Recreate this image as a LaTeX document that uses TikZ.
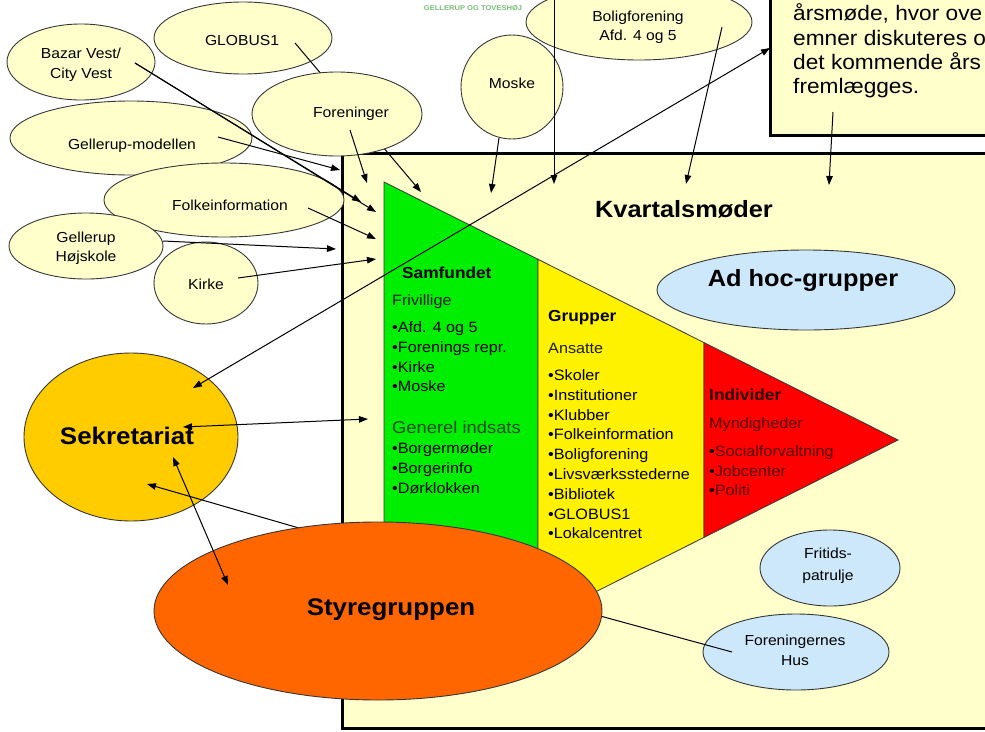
\documentclass[tikz,border=0pt]{standalone}
\usepackage{fontspec}
\setmainfont{Liberation Sans}[FakeStretch=1.08]
\usetikzlibrary{shapes.geometric,arrows.meta}
\definecolor{cream}{RGB}{255,255,204}
\definecolor{lblue}{RGB}{204,232,250}
\definecolor{gold}{RGB}{255,204,0}
\definecolor{orng}{RGB}{255,102,0}
\definecolor{lime}{RGB}{0,238,0}
\definecolor{outl}{RGB}{55,55,55}
\definecolor{dred}{RGB}{85,0,0}
\definecolor{dgreen}{RGB}{30,75,30}
\definecolor{dgray}{RGB}{30,30,30}
\definecolor{logo}{RGB}{120,190,120}
\begin{document}
\begin{tikzpicture}[x=1pt,y=-1pt,
  bub/.style={ellipse, draw=outl, line width=0.9pt, fill=cream, inner sep=0pt},
  bluebub/.style={bub, fill=lblue},
  lbl/.style={inner sep=0pt, align=center, font=\fontsize{14.5}{20}\selectfont},
  one/.style={lbl, text height=0.75em, text depth=0.22em},
  big/.style={inner sep=0pt, font=\fontsize{24}{28}\selectfont\bfseries, text height=0.75em, text depth=0.22em},
  item/.style={inner sep=0pt, anchor=mid west, font=\fontsize{15}{18}\selectfont},
  head/.style={inner sep=0pt, anchor=mid west, font=\fontsize{16}{19}\selectfont\bfseries},
  boxtxt/.style={inner sep=0pt, anchor=mid west, font=\fontsize{21}{24}\selectfont},
  conn/.style={line width=1pt, -{Triangle[length=9pt,width=6.5pt]}},
  dconn/.style={line width=1pt, {Triangle[length=9pt,width=6.5pt]}-{Triangle[length=9pt,width=6.5pt]}},
  plain/.style={line width=1pt},
  piece/.style={draw=outl, line width=0.8pt}
]
\useasboundingbox (0,0) rectangle (985,731);
\clip (0,0) rectangle (985,731);
\fill[white] (0,0) rectangle (985,731);

% logo fragment
\node[inner sep=0pt, text=logo, font=\fontsize{7}{8}\selectfont\bfseries] (logo) at (473,8) {GELLERUP OG TOVESHØJ};

% main frame and top-right box
\draw[line width=3pt, fill=cream] (342,153) rectangle (1000,728);
\draw[line width=3pt, fill=cream] (770,-10) rectangle (1000,135);
\node[boxtxt] (b1) at (793,18) {årsmøde, hvor ove};
\node[boxtxt] (b2) at (793,43) {emner diskuteres o};
\node[boxtxt] (b3) at (793,67) {det kommende års};
\node[boxtxt] (b4) at (793,91) {fremlægges.};
\coordinate (boxleft) at (770,48);
\coordinate (boxbot) at (833,112);

% pyramid
\filldraw[piece, fill=lime] (384,182) -- (538,259.3) -- (538,620.7) -- (384,698) -- cycle;
\filldraw[piece, fill=yellow] (538,259.3) -- (704,342.6) -- (704,537.4) -- (538,620.7) -- cycle;
\filldraw[piece, fill=red] (704,342.6) -- (898,440) -- (704,537.4) -- cycle;

% texts in pyramid
\node[head] (samf) at (402,276) {Samfundet};
\node[item, text=dgray] (friv) at (392,303) {Frivillige};
\node[item] (s1) at (392,330) {•Afd. 4 og 5};
\node[item] (s2) at (392,350) {•Forenings repr.};
\node[item] (s3) at (392,370) {•Kirke};
\node[item] (s4) at (392,389) {•Moske};
\node[item, text=dgreen, font=\fontsize{17}{20}\selectfont] (gen) at (392,431) {Generel indsats};
\node[item] (s5) at (392,451) {•Borgermøder};
\node[item] (s6) at (392,471) {•Borgerinfo};
\node[item] (s7) at (392,491) {•Dørklokken};

\node[head] (grup) at (548,319) {Grupper};
\node[item, text=dgray] (ans) at (548,351) {Ansatte};
\node[item] (g1) at (548,378) {•Skoler};
\node[item] (g2) at (548,398) {•Institutioner};
\node[item] (g3) at (548,418) {•Klubber};
\node[item] (g4) at (548,437) {•Folkeinformation};
\node[item] (g5) at (548,457) {•Boligforening};
\node[item] (g6) at (548,477) {•Livsværksstederne};
\node[item] (g7) at (548,497) {•Bibliotek};
\node[item] (g8) at (548,517) {•GLOBUS1};
\node[item] (g9) at (548,536) {•Lokalcentret};

\node[head, text={rgb,255:red,40;green,0;blue,0}] (indi) at (709,398) {Individer};
\node[item, text=dred] (mynd) at (709,426) {Myndigheder};
\node[item, text=dred] (r1) at (709,454) {\textcolor{black}{•}Socialforvaltning};
\node[item, text=dred] (r2) at (709,474) {\textcolor{black}{•}Jobcenter};
\node[item, text=dred] (r3) at (709,493) {\textcolor{black}{•}Politi};

% Kvartalsmoder title, blue bubbles
\node[inner sep=0pt, font=\fontsize{23.5}{26}\selectfont\bfseries, text height=0.75em, text depth=0.22em] (kvart) at (684,215) {Kvartalsmøder};
\node[bluebub, minimum width=298pt, minimum height=80pt] (adhoc) at (806,290) {};
\node[inner sep=0pt, font=\fontsize{23.5}{26}\selectfont\bfseries, text height=0.75em, text depth=0.22em] (tadhoc) at (803,284) {Ad hoc-grupper};
\node[bluebub, minimum width=140pt, minimum height=76pt] (frit) at (830,568) {};
\node[lbl, font=\fontsize{14.5}{22}\selectfont] (tfrit) at (828,566) {Fritids-\\patrulje};
\node[bluebub, minimum width=186pt, minimum height=76pt] (hus) at (796,652) {};
\node[lbl] (thus) at (795,650) {Foreningernes\\Hus};

% outer bubbles
\node[bub, minimum width=148pt, minimum height=76pt] (bazar) at (81,62) {};
\node[lbl] (tbazar) at (81,65) {Bazar Vest/\\City Vest};
\node[bub, minimum width=178pt, minimum height=72pt] (globus) at (243,38) {};
\node[one] (tglobus) at (242,43) {GLOBUS1};
\coordinate (globusS) at (295,43);
\coordinate (globusT) at (421,192);
\draw[conn] (globusS) -- (globusT);
\node[bub, minimum width=170pt, minimum height=84pt] (foren) at (337,114) {};
\node[one] (tforen) at (351,115) {Foreninger};
\node[bub, minimum width=242pt, minimum height=74pt] (gmod) at (131,138) {};
\node[one] (tgmod) at (132,147) {Gellerup-modellen};
\node[bub, minimum width=240pt, minimum height=74pt] (folk) at (224,200) {};
\node[one] (tfolk) at (230,208) {Folkeinformation};
\node[bub, minimum width=154pt, minimum height=66pt] (hojsk) at (86,246) {};
\node[lbl, font=\fontsize{14.5}{19}\selectfont] (thojsk) at (86,248.5) {Gellerup\\Højskole};
\node[bub, minimum width=104pt, minimum height=82pt] (kirke) at (206,283) {};
\node[one] (tkirke) at (206,287) {Kirke};
\node[bub, minimum width=102pt, minimum height=104pt] (moske) at (512,87) {};
\node[one] (tmoske) at (512,86) {Moske};
\node[bub, minimum width=226pt, minimum height=76pt] (bolig) at (639,22) {};
\node[lbl, font=\fontsize{14.5}{19}\selectfont] (tbolig) at (638,27.5) {Boligforening\\Afd. 4 og 5};

% Sekretariat
\node[ellipse, draw=outl, line width=0.9pt, fill=gold, inner sep=0pt, minimum width=214pt, minimum height=168pt] (sek) at (131,437) {};
\node[big] (tsek) at (127,442) {Sekretariat};

% connector coordinates
\coordinate (gmodS) at (218,137);   \coordinate (gmodT) at (340,170);
\coordinate (forenS) at (350,130);  \coordinate (forenT) at (367,183);
\coordinate (bazarS) at (135,63);   \coordinate (bazarT1) at (361,202); \coordinate (bazarT2) at (376,212);
\coordinate (folkS) at (308,208);   \coordinate (folkT) at (376,239);
\coordinate (hojskS) at (163,241);  \coordinate (hojskT) at (336,249);
\coordinate (kirkeS) at (238,278);  \coordinate (kirkeT) at (376,259);
\coordinate (moskeS) at (499,138);  \coordinate (moskeT) at (491,193);
\coordinate (topS) at (554,-5);     \coordinate (topT) at (554,184);
\coordinate (boligS) at (722,27);   \coordinate (boligT) at (686,184);
\coordinate (boxT) at (829,185);
\coordinate (sekA) at (193,388);
\coordinate (sekB) at (183,427);    \coordinate (frameL) at (368,419);
\coordinate (sekC) at (173,457);    \coordinate (styrA) at (228,585);
\coordinate (sekD) at (147,484);    \coordinate (styrB) at (330,537);
\coordinate (styrC) at (560,605);   \coordinate (husP) at (732,652);

\draw[conn] (gmodS) -- (gmodT);
\draw[conn] (forenS) -- (forenT);
\draw[conn] (bazarS) -- (bazarT1);
\draw[conn] (bazarS) -- (bazarT2);
\draw[conn] (folkS) -- (folkT);
\draw[conn] (hojskS) -- (hojskT);
\draw[conn] (kirkeS) -- (kirkeT);
\draw[conn] (moskeS) -- (moskeT);
\draw[conn] (topS) -- (topT);
\draw[conn] (boligS) -- (boligT);
\draw[conn] (boxbot) -- (boxT);
\draw[dconn] (sekA) -- (boxleft);
\draw[dconn] (sekB) -- (frameL);
\draw[conn] (styrB) -- (sekD);
\draw[plain] (styrC) -- (husP);

% Styregruppen
\node[ellipse, draw=outl, line width=0.9pt, fill=orng, inner sep=0pt, minimum width=448pt, minimum height=178pt] (styr) at (378,611) {};
\node[big] (tstyr) at (391,613) {Styregruppen};
\draw[dconn] (sekC) -- (styrA);
\end{tikzpicture}
\end{document}
